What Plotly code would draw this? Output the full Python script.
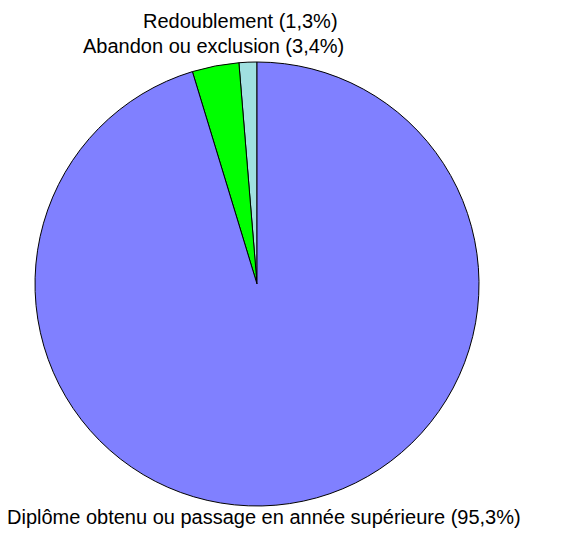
import plotly.graph_objects as go

labels = ["Redoublement", "Abandon ou exclusion", "Diplôme obtenu ou passage en année supérieure"]
values = [1.3, 3.4, 95.3]
colors = ["#A0E0E0", "#00FF00", "#8080FF"]

W, H = 572, 536
OFF = 8  # page body margin
cx, cy, r = 257 - OFF, 284 - OFF, 222

fig = go.Figure(go.Pie(
    labels=labels, values=values, sort=False,
    direction="counterclockwise", rotation=-values[0] * 3.6,
    marker=dict(colors=colors, line=dict(color="black", width=1)),
    textinfo="none", hoverinfo="label+percent", showlegend=False,
    domain=dict(x=[(cx - r) / W, (cx + r) / W], y=[1 - (cy + r) / H, 1 - (cy - r) / H]),
))

label_pos = [(240.5, 21), (213.5, 46.5), (263.5, 517)]
for lab, v, (x, y) in zip(labels, values, label_pos):
    fig.add_annotation(
        x=(x - OFF) / W, y=1 - (y - OFF) / H, xref="paper", yref="paper",
        text=f"{lab} ({str(v).replace('.', ',')}%)", showarrow=False,
        xanchor="center", yanchor="middle",
        font=dict(family="Liberation Sans, Arial", size=20, color="black"),
    )

fig.update_layout(
    width=W, height=H, margin=dict(l=0, r=0, t=0, b=0),
    paper_bgcolor="white", plot_bgcolor="white",
)
fig.write_html("out.html")
